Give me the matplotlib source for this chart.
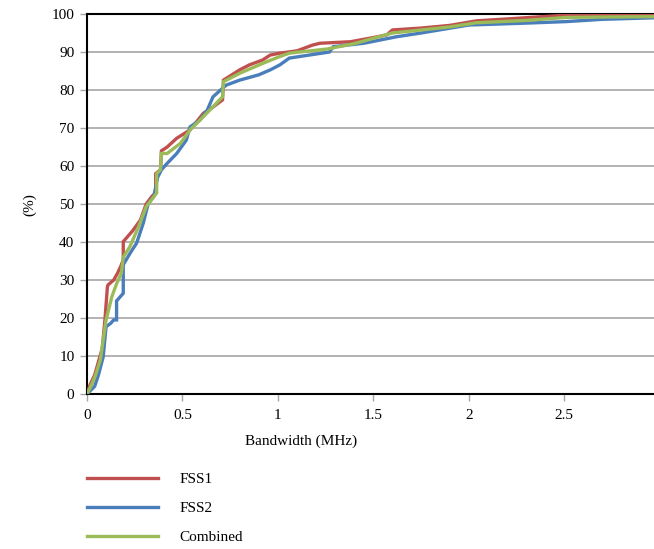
import matplotlib
matplotlib.use("Agg")
import matplotlib.pyplot as plt

# Data (Bandwidth MHz, cumulative %)
fss1_x = [0, 0.016, 0.04, 0.06, 0.08, 0.094, 0.107, 0.11, 0.14, 0.16, 0.176, 0.19, 0.19, 0.24, 0.28, 0.31, 0.34, 0.36, 0.36, 0.385, 0.39,
          0.42, 0.47, 0.54, 0.61, 0.66, 0.71, 0.715, 0.8, 0.85, 0.92, 0.96, 1.01, 1.1, 1.18, 1.22, 1.38, 1.5, 1.57, 1.6, 1.75, 1.9, 2.04,
          2.2, 2.51, 2.7, 2.97]
fss1_y = [0, 2.4, 5, 8.5, 12, 19.5, 28.2, 28.7, 30, 31.8, 33.5, 35.3, 40.1, 43, 45.8, 50, 52, 53, 58, 59, 64,
          65, 67.3, 69.5, 73.9, 75.5, 77.4, 82.6, 85.3, 86.6, 87.9, 89.2, 89.7, 90.3, 91.8, 92.3, 92.7, 93.8, 94.5, 95.8, 96.3, 97, 98.2,
          98.7, 99.7, 99.8, 99.9]

fss2_x = [0, 0.04, 0.06, 0.085, 0.1, 0.124, 0.14, 0.155, 0.155, 0.19, 0.19, 0.225, 0.26, 0.295, 0.32, 0.35, 0.37, 0.39,
          0.42, 0.47, 0.52, 0.54, 0.59, 0.63, 0.66, 0.7, 0.73, 0.8, 0.9, 0.96, 1.01, 1.06, 1.27, 1.29, 1.45, 1.62, 1.75, 2.0,
          2.3, 2.51, 2.7, 2.97]
fss2_y = [0, 2, 5, 9.8, 17.7, 18.6, 19.5, 19.5, 24.5, 26.5, 34, 37, 39.7, 45, 50, 52, 57, 59,
          60.7, 63.3, 66.8, 70.3, 72, 74.7, 78.2, 80, 81.3, 82.6, 84, 85.3, 86.6, 88.4, 90, 91.4, 92.3, 94, 95, 97.1,
          97.6, 98, 98.6, 99]

comb_x = [0, 0.02, 0.045, 0.07, 0.1, 0.13, 0.155, 0.18, 0.19, 0.225, 0.27, 0.31, 0.365, 0.365, 0.385, 0.39,
          0.42, 0.49, 0.54, 0.61, 0.66, 0.71, 0.715, 0.8, 0.92, 1.01, 1.06, 1.26, 1.4, 1.6, 1.75, 1.9, 2.04,
          2.3, 2.51, 2.7, 2.97]
comb_y = [0, 2, 5, 9, 19.5, 25.6, 29, 31.8, 36, 38.8, 44, 49.3, 52.9, 58, 59, 63.3,
          63.3, 66, 69.5, 73, 75.6, 78.2, 82.2, 84.4, 87, 88.8, 89.7, 90.8, 92.2, 95, 95.8, 96.6, 97.7,
          98.3, 99.1, 99.2, 99.3]

series_names = ["FSS1", "FSS2", "Combined"]
colors = ["#C0504D", "#4A7EBB", "#9BBB59"]
x_ticks = [0, 0.5, 1, 1.5, 2, 2.5]
y_ticks = list(range(0, 101, 10))

plt.rcParams['font.family'] = ['Liberation Serif', 'DejaVu Serif']

fig = plt.figure(figsize=(6.54, 5.49), dpi=100)
ax = fig.add_axes([0.133, 0.2823, 0.867, 0.6922])

data = [(fss1_x, fss1_y), (fss2_x, fss2_y), (comb_x, comb_y)]
handles = []
for (xs, ys), name, c in zip(data, series_names, colors):
    h, = ax.plot(xs, ys, color=c, lw=2.4, label=name, solid_joinstyle='miter', zorder=3)
    handles.append(h)

ax.set_xlim(0, 2.97)
ax.set_ylim(0, 100)
ax.set_xticks(x_ticks)
ax.set_xticklabels([f"{t:g}" for t in x_ticks])
ax.set_yticks(y_ticks)
ax.yaxis.grid(True, color="#A6A6A6", lw=1.2)
ax.set_axisbelow(True)
for s in ["left", "bottom", "top"]:
    ax.spines[s].set_linewidth(1.5)
    ax.spines[s].set_color("black")
ax.spines["right"].set_visible(False)
ax.tick_params(axis='both', colors="#A6A6A6", labelcolor="black", labelsize=11, length=5, width=1)
ax.tick_params(axis='x', pad=6)
ax.tick_params(axis='y', pad=4)

fig.text(301 / 654, 1 - 441 / 549, "Bandwidth (MHz)", fontsize=11, ha='center', va='center')
fig.text(30 / 654, 1 - 205 / 549, "(%)", rotation=90, fontsize=11, ha='center', va='center')

fig.legend(handles=handles, labels=series_names, loc='upper left',
           bbox_to_anchor=(0.122, 0.153), frameon=False, fontsize=11,
           handlelength=4.6, handletextpad=1.4, labelspacing=1.0, borderpad=0)

fig.savefig("out.png", dpi=100)
